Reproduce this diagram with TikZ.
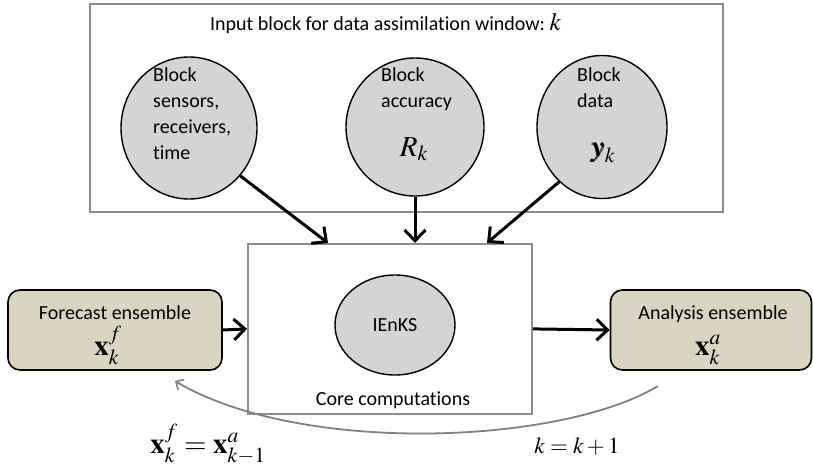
\documentclass[tikz,border=0pt]{standalone}
\usepackage{mathptmx}
\usepackage{bm}
\usepackage{fontspec}
\setmainfont{Carlito}[Ligatures=NoCommon]
\usetikzlibrary{arrows.meta,shapes.geometric}
\definecolor{ensfill}{RGB}{218,213,192}
\tikzset{
  frame/.style={draw=black!45, line width=1.8pt, inner sep=0pt, anchor=north west},
  bubble/.style={ellipse, draw=black, line width=1.4pt, fill=black!17, inner sep=0pt},
  ensbox/.style={draw=black, line width=1.6pt, rounded corners=12pt, fill=ensfill, inner sep=0pt},
  flow/.style={line width=3pt, -{Straight Barb[length=11pt,width=21pt,line width=3pt]}},
  loop/.style={draw=black!50, line width=1.8pt, -{Straight Barb[length=6pt,width=12pt,line width=1.6pt]}},
  lbl/.style={font=\fontsize{20}{26}\selectfont, inner sep=0pt},
  mth/.style={inner sep=0pt, font=\fontsize{29}{29}\selectfont},
}
\begin{document}
\begin{tikzpicture}[x=1pt,y=-1pt]
\useasboundingbox (0,0) rectangle (813,474);
% input block
\node[frame, minimum width=633pt, minimum height=208pt] (inblock) at (89,3) {};
\node[lbl, anchor=base west] (title) at (210,30) {Input block for data assimilation window:\ \fontsize{25}{25}\selectfont$k$};
% circles
\node[bubble, minimum width=136pt, minimum height=142pt] (sens) at (189,128) {};
\node[lbl, align=left, anchor=north west] (senst) at (153,67) {Block\\sensors,\\receivers,\\time};
\node[bubble, minimum width=138pt, minimum height=138pt] (acc) at (415,127) {};
\node[lbl, align=left, anchor=north west] (acct) at (381,67) {Block\\accuracy};
\node[mth, anchor=base] (Rk) at (414,156) {$R_k$};
\node[bubble, minimum width=130pt, minimum height=143pt] (dat) at (602,127) {};
\node[lbl, align=left, anchor=north west] (datt) at (577,67) {Block\\data};
\node[mth, anchor=base] (yk) at (603,156) {$\bm{y}_k$};
% core
\node[frame, minimum width=284pt, minimum height=170pt] (core) at (247,243) {};
\node[bubble, minimum width=120pt, minimum height=100pt] (ienks) at (395,325) {};
\node[lbl] at (ienks) {IEnKS};
\node[lbl, anchor=base] (coret) at (393,405) {Core computations};
% ensembles
\node[ensbox, minimum width=214pt, minimum height=80pt] (fc) at (115,330) {};
\node[lbl, anchor=base] (fct) at (115,319) {Forecast ensemble};
\node[mth, anchor=base] (fcx) at (108,355) {$\mathbf{x}_k^f$};
\node[ensbox, minimum width=201pt, minimum height=80pt] (an) at (711,330) {};
\node[lbl, anchor=base] (ant) at (713,319) {Analysis ensemble};
\node[mth, anchor=base] (anx) at (708,355) {$\mathbf{x}_k^a$};
% arrows
\coordinate (c1) at (328,243);
\coordinate (c2) at (415,243);
\coordinate (c3) at (487,243);
\draw[flow] (sens.-43) -- (c1);
\draw[flow] (acc.south) -- (c2);
\draw[flow] (dat.-128) -- (c3);
\draw[flow] (fc.east) -- (core.west);
\draw[flow] (core.east) -- (an.west);
% loop
\coordinate (ls) at (658,386);
\coordinate (le) at (175,381);
\draw[loop] (ls) .. controls (560,445) and (300,455) .. (le);
\node[mth, anchor=base] (eq1) at (208,453) {$\mathbf{x}_k^f=\mathbf{x}_{k-1}^a$};
\node[inner sep=0pt, anchor=base, font=\fontsize{23}{23}\selectfont] (eq2) at (577,453) {$k=k+1$};
\end{tikzpicture}
\end{document}
